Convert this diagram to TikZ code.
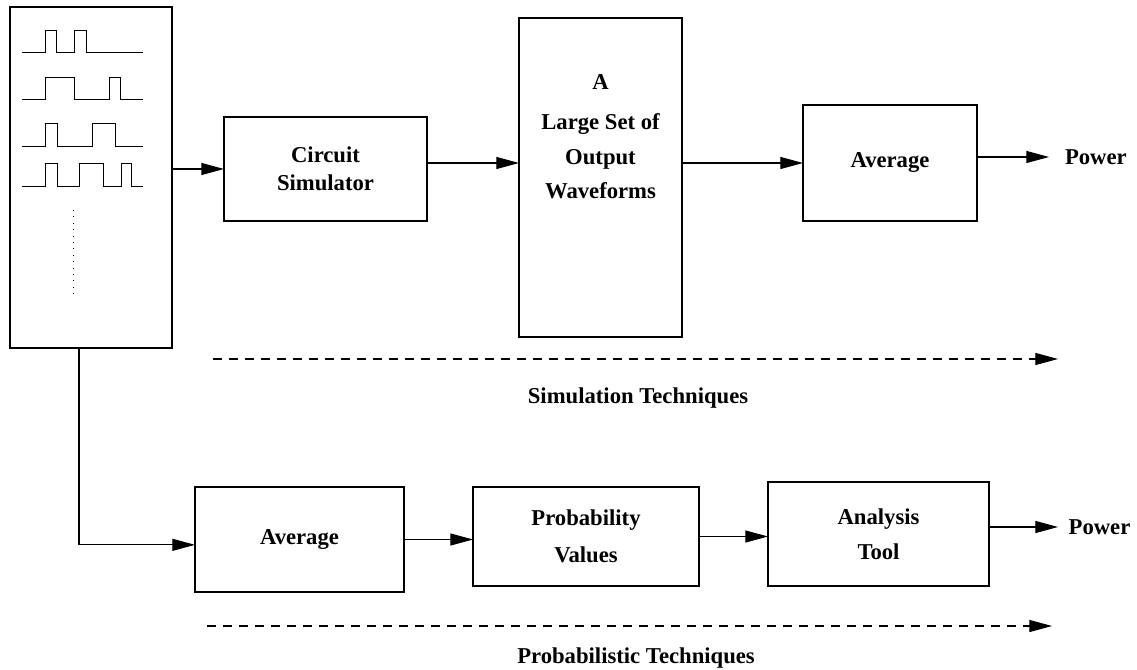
\documentclass[tikz,border=0pt]{standalone}
\usepackage{fontspec}
\setmainfont{Liberation Serif}
\usetikzlibrary{arrows.meta}

\begin{document}
\begin{tikzpicture}[x=0.75pt,y=-0.75pt,
  every node/.style={inner sep=0pt,outer sep=0pt,font=\bfseries\fontsize{17}{26}\selectfont},
  blk/.style={draw=black,line width=0.8pt,rectangle},
  flow/.style={line width=0.8pt,-{Triangle[length=17pt,width=9pt]}},
  trend/.style={flow,dash pattern=on 6.5pt off 5.5pt},
  wave/.style={line width=0.6pt},
  txt/.style={align=center}]
\useasboundingbox (0,0) rectangle (1137,670);
% input patterns
\node[blk,minimum width=121.5pt,minimum height=255.75pt] (inputs) at (91,177.5) {};
\draw[wave] (22,52) -- (45,52) -- (45,30) -- (56,30) -- (56,52) -- (74,52) -- (74,30) -- (86,30) -- (86,52) -- (143,52);
\draw[wave] (22,99) -- (45,99) -- (45,77) -- (74,77) -- (74,99) -- (109,99) -- (109,77) -- (120,77) -- (120,99) -- (143,99);
\draw[wave] (22,146) -- (45,146) -- (45,123) -- (57,123) -- (57,146) -- (92,146) -- (92,123) -- (115,123) -- (115,146) -- (143,146);
\draw[wave] (22,186) -- (45,186) -- (45,163) -- (57,163) -- (57,186) -- (79,186) -- (79,163) -- (103,163) -- (103,186) -- (121,186) -- (121,163) -- (131,163) -- (131,186) -- (143,186);
\draw[wave,dash pattern=on 0.8pt off 4pt] (73,210) -- (73,295);
% simulation path
\node[blk,txt,minimum width=152.25pt,minimum height=78pt] (cs) at (325.5,169) {Circuit\\[-5pt]Simulator};
\node[blk,minimum width=122.25pt,minimum height=239.25pt] (big) at (600.5,177.5) {};
\node[txt] (bigtxt) at (600.5,137) {A\\[4pt]Large Set of\\Output\\Waveforms};
\node[blk,minimum width=130.5pt,minimum height=87pt] (avgsim) at (890,163) {Average};
\node[anchor=west,inner xsep=12pt] (pwrsim) at (1049,157) {Power};
\draw[flow] (inputs.east |- cs.west) -- (cs.west);
\draw[flow] (cs.east |- avgsim.west) -- (big.west |- avgsim.west);
\draw[flow] (big.east |- avgsim.west) -- (avgsim.west);
\draw[flow] (avgsim.east |- pwrsim.west) -- (pwrsim.west);
\coordinate (simfrom) at (213,359);
\coordinate (simto) at (1058,359);
\draw[trend] (simfrom) -- (simto);
\node[anchor=base] (simtxt) at (638,403) {Simulation Techniques};
% probabilistic path
\node[blk,minimum width=156.75pt,minimum height=78.75pt] (avgprob) at (299.5,539.5) {Average};
\node[blk,txt,minimum width=169.5pt,minimum height=74.25pt] (prob) at (586,536.5) {Probability\\[2pt]Values};
\node[blk,txt,minimum width=165.75pt,minimum height=78pt] (tool) at (878.5,534) {Analysis\\Tool};
\node[anchor=west,inner xsep=8pt] (pwrprob) at (1058,527) {Power};
\draw[flow] ([xshift=-9pt]inputs.south) |- ([yshift=-4pt]avgprob.west);
\draw[flow] (avgprob.east) -- (avgprob.east -| prob.west);
\draw[flow] (prob.east) -- (prob.east -| tool.west);
\draw[flow] (tool.east |- pwrprob.west) -- (pwrprob.west);
\coordinate (probfrom) at (207,626);
\coordinate (probto) at (1052,626);
\draw[trend] (probfrom) -- (probto);
\node[anchor=base] (probtxt) at (636,663) {Probabilistic Techniques};
\end{tikzpicture}
\end{document}
